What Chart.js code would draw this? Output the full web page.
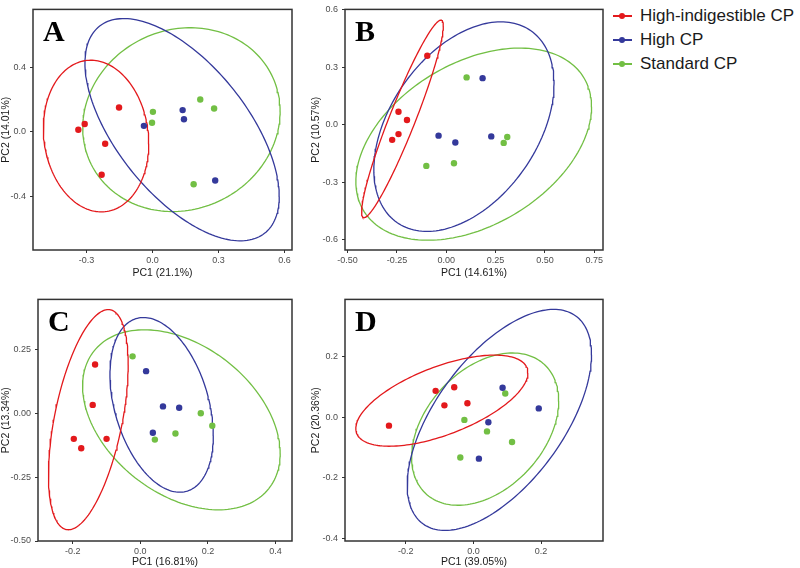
<!DOCTYPE html>
<html><head><meta charset="utf-8">
<script src="https://cdn.jsdelivr.net/npm/chart.js@4.4.0/dist/chart.umd.min.js"></script>
<style>
body{margin:0;background:#fff;width:800px;height:568px;position:relative;overflow:hidden;font-family:"Liberation Sans",Arial,sans-serif;}
.pane{position:absolute;}
#legend{position:absolute;left:610px;top:4px;}
.row{position:relative;height:24px;width:190px;}
.ln{position:absolute;left:3px;top:11.2px;width:19px;height:1.6px;}
.dot{position:absolute;left:9px;top:9px;width:6px;height:6px;border-radius:50%;}
.lab{position:absolute;left:30px;top:0;font-size:17px;line-height:24px;color:#1a1a1a;white-space:nowrap;}
</style></head>
<body>
<div class="pane" style="left:0;top:0;width:310px;height:290px"><canvas id="cA"></canvas></div>
<div class="pane" style="left:310px;top:0;width:300px;height:290px"><canvas id="cB"></canvas></div>
<div class="pane" style="left:0;top:290px;width:310px;height:278px"><canvas id="cC"></canvas></div>
<div class="pane" style="left:310px;top:290px;width:300px;height:278px"><canvas id="cD"></canvas></div>
<div id="legend"></div>
<script>
// ---- groups ----
const groupNames = ["High-indigestible CP", "High CP", "Standard CP"];
const groupColors = ["#E3191C", "#34399B", "#72BF44"];

// ---- Panel A (PC1 21.1%, PC2 14.01%) ----
const A_hiCP_pc1 = [-0.337, -0.308, -0.152, -0.215, -0.231];
const A_hiCP_pc2 = [0.014, 0.049, 0.152, -0.073, -0.266];
const A_high_pc1 = [-0.039, 0.137, 0.143, 0.285];
const A_high_pc2 = [0.038, 0.136, 0.079, -0.302];
const A_std_pc1  = [0.002, -0.002, 0.217, 0.280, 0.187];
const A_std_pc2  = [0.125, 0.057, 0.202, 0.146, -0.325];
// ellipse: [xmin, xmax, ymin, ymax, tilt]
const A_ellipses = [[-0.496, -0.017, -0.497, 0.446, -0.10], [-0.307, 0.576, -0.677, 0.705, -0.60], [-0.317, 0.580, -0.495, 0.648, 0.09]];
const A_xTicks = [-0.3, 0.0, 0.3, 0.6];
const A_xLabels = ["-0.3", "0.0", "0.3", "0.6"];
const A_yTicks = [-0.4, 0.0, 0.4];
const A_yLabels = ["-0.4", "0.0", "0.4"];

// ---- Panel B (PC1 14.61%, PC2 10.57%) ----
const B_hiCP_pc1 = [-0.096, -0.242, -0.199, -0.242, -0.274];
const B_hiCP_pc2 = [0.360, 0.068, 0.025, -0.049, -0.079];
const B_high_pc1 = [0.184, -0.039, 0.046, 0.228];
const B_high_pc2 = [0.243, -0.057, -0.093, -0.061];
const B_std_pc1  = [0.103, -0.101, 0.039, 0.309, 0.291];
const B_std_pc2  = [0.247, -0.215, -0.201, -0.064, -0.095];
const B_ellipses = [[-0.429, -0.015, -0.485, 0.546, 0.94], [-0.367, 0.546, -0.557, 0.537, 0.41], [-0.458, 0.736, -0.603, 0.400, 0.39]];
const B_xTicks = [-0.5, -0.25, 0.0, 0.25, 0.5, 0.75];
const B_xLabels = ["-0.50", "-0.25", "0.00", "0.25", "0.50", "0.75"];
const B_yTicks = [-0.6, -0.3, 0.0, 0.3, 0.6];
const B_yLabels = ["-0.6", "-0.3", "0.0", "0.3", "0.6"];

// ---- Panel C (PC1 16.81%, PC2 13.34%) ----
const C_hiCP_pc1 = [-0.134, -0.141, -0.197, -0.175, -0.100];
const C_hiCP_pc2 = [0.191, 0.033, -0.100, -0.137, -0.100];
const C_high_pc1 = [0.017, 0.067, 0.115, 0.037];
const C_high_pc2 = [0.165, 0.027, 0.022, -0.076];
const C_std_pc1  = [-0.023, 0.179, 0.213, 0.104, 0.043];
const C_std_pc2  = [0.223, 0.000, -0.049, -0.079, -0.103];
const C_ellipses = [[-0.272, -0.036, -0.456, 0.406, 0.50], [-0.090, 0.216, -0.309, 0.375, -0.35], [-0.171, 0.414, -0.378, 0.327, -0.375]];
const C_xTicks = [-0.2, 0.0, 0.2, 0.4];
const C_xLabels = ["-0.2", "0.0", "0.2", "0.4"];
const C_yTicks = [-0.5, -0.25, 0.0, 0.25];
const C_yLabels = ["-0.50", "-0.25", "0.00", "0.25"];

// ---- Panel D (PC1 39.05%, PC2 20.36%) ----
const D_hiCP_pc1 = [-0.250, -0.112, -0.057, -0.086, -0.018];
const D_hiCP_pc2 = [-0.028, 0.087, 0.099, 0.039, 0.046];
const D_high_pc1 = [0.086, 0.193, 0.044, 0.016];
const D_high_pc2 = [0.097, 0.029, -0.017, -0.137];
const D_std_pc1  = [0.094, -0.027, 0.040, 0.114, -0.039];
const D_std_pc2  = [0.078, -0.009, -0.047, -0.082, -0.133];
const D_ellipses = [[-0.348, 0.161, -0.096, 0.205, 0.61], [-0.196, 0.349, -0.374, 0.356, 0.59], [-0.183, 0.252, -0.291, 0.212, 0.37]];
const D_xTicks = [-0.2, 0.0, 0.2];
const D_xLabels = ["-0.2", "0.0", "0.2"];
const D_yTicks = [-0.4, -0.2, 0.0, 0.2];
const D_yLabels = ["-0.4", "-0.2", "0.0", "0.2"];

// ---- helpers ----
function toPts(xs, ys){ return xs.map((x,i)=>({x:x, y:ys[i]})); }
function ellipsePath(p){
  const [xmin,xmax,ymin,ymax,rho] = p;
  const cx=(xmin+xmax)/2, cy=(ymin+ymax)/2, rx=(xmax-xmin)/2, ry=(ymax-ymin)/2;
  const phi = Math.acos(rho);
  const out=[];
  for(let i=0;i<=180;i++){
    const t = i/180*2*Math.PI;
    out.push({x: cx+rx*Math.cos(t), y: cy+ry*Math.cos(t-phi)});
  }
  return out;
}

const boxPlugin = {
  id:'box',
  afterDatasetsDraw(chart, args, opts){
    const {ctx, chartArea:a} = chart;
    ctx.save();
    ctx.strokeStyle='#333'; ctx.lineWidth=1.5;
    ctx.strokeRect(a.left, a.top, a.right-a.left, a.bottom-a.top);
    ctx.fillStyle='#000';
    ctx.font='bold 30px "Liberation Serif", "Times New Roman", serif';
    ctx.textBaseline='alphabetic';
    ctx.fillText(opts.letter, a.left+10, a.top+32);
    ctx.restore();
  }
};

const FONT = '"Liberation Sans", Arial, sans-serif';

function makePanel(id, c){
  const datasets=[];
  c.points.forEach((pts,g)=>{
    datasets.push({label:groupNames[g], data:pts, showLine:false, pointRadius:3.2, pointBorderWidth:0,
      pointBackgroundColor:groupColors[g], backgroundColor:groupColors[g], borderColor:groupColors[g]});
  });
  c.ellipses.forEach((e,g)=>{
    datasets.push({label:groupNames[g]+' ellipse', data:ellipsePath(e), showLine:true, pointRadius:0,
      borderColor:groupColors[g], borderWidth:1.3, tension:0, fill:false});
  });
  const axis = (ticks, labels, range, title, isX) => ({
    type:'linear', min:range[0], max:range[1],
    afterBuildTicks: s => { s.ticks = ticks.map(v=>({value:v})); },
    afterFit: s => { if(isX) s.height = c.xHeight; else s.width = c.yWidth; },
    ticks:{ callback:(v,i)=>labels[i], font:{family:FONT,size:9}, color:'#4d4d4d', padding: isX?2:4, maxRotation:0, autoSkip:false },
    grid:{ display:true, drawOnChartArea:false, drawTicks:true, tickLength:3, tickColor:'#333', lineWidth:1 },
    border:{ display:false },
    title:{ display:true, text:title, font:{family:FONT,size:10.5}, color:'#1a1a1a',
      padding: isX ? {top:0,bottom:c.xTitlePad} : {top:0,bottom:0} }
  });
  new Chart(document.getElementById(id), {
    type:'scatter',
    data:{datasets},
    plugins:[boxPlugin],
    options:{
      responsive:true, maintainAspectRatio:false, animation:false, events:[],
      layout:{padding:c.padding},
      plugins:{ legend:{display:false}, tooltip:{enabled:false}, box:{letter:c.letter} },
      scales:{
        x: axis(c.xTicks, c.xLabels, c.xRange, c.xTitle, true),
        y: axis(c.yTicks, c.yLabels, c.yRange, c.yTitle, false)
      }
    }
  });
}

makePanel('cA', {letter:'A', padding:{top:4,right:18,left:0,bottom:0}, yWidth:33, xHeight:40, xTitlePad:10.5,
  xRange:[-0.543,0.634], yRange:[-0.734,0.762], xTicks:A_xTicks, xLabels:A_xLabels, yTicks:A_yTicks, yLabels:A_yLabels,
  xTitle:'PC1 (21.1%)', yTitle:'PC2 (14.01%)',
  points:[toPts(A_hiCP_pc1,A_hiCP_pc2), toPts(A_high_pc1,A_high_pc2), toPts(A_std_pc1,A_std_pc2)], ellipses:A_ellipses});

makePanel('cB', {letter:'B', padding:{top:3,right:7,left:0,bottom:0}, yWidth:35, xHeight:40, xTitlePad:10.5,
  xRange:[-0.513,0.794], yRange:[-0.654,0.602], xTicks:B_xTicks, xLabels:B_xLabels, yTicks:B_yTicks, yLabels:B_yLabels,
  xTitle:'PC1 (14.61%)', yTitle:'PC2 (10.57%)',
  points:[toPts(B_hiCP_pc1,B_hiCP_pc2), toPts(B_high_pc1,B_high_pc2), toPts(B_std_pc1,B_std_pc2)], ellipses:B_ellipses});

makePanel('cC', {letter:'C', padding:{top:2,right:18,left:0,bottom:0}, yWidth:38, xHeight:27, xTitlePad:0,
  xRange:[-0.303,0.449], yRange:[-0.5,0.446], xTicks:C_xTicks, xLabels:C_xLabels, yTicks:C_yTicks, yLabels:C_yLabels,
  xTitle:'PC1 (16.81%)', yTitle:'PC2 (13.34%)',
  points:[toPts(C_hiCP_pc1,C_hiCP_pc2), toPts(C_high_pc1,C_high_pc2), toPts(C_std_pc1,C_std_pc2)], ellipses:C_ellipses});

makePanel('cD', {letter:'D', padding:{top:2,right:7,left:0,bottom:0}, yWidth:35, xHeight:27, xTitlePad:0,
  xRange:[-0.38,0.383], yRange:[-0.409,0.389], xTicks:D_xTicks, xLabels:D_xLabels, yTicks:D_yTicks, yLabels:D_yLabels,
  xTitle:'PC1 (39.05%)', yTitle:'PC2 (20.36%)',
  points:[toPts(D_hiCP_pc1,D_hiCP_pc2), toPts(D_high_pc1,D_high_pc2), toPts(D_std_pc1,D_std_pc2)], ellipses:D_ellipses});

// legend
const leg = document.getElementById('legend');
groupNames.forEach((n,i)=>{
  const r=document.createElement('div'); r.className='row';
  r.innerHTML='<div class="ln" style="background:'+groupColors[i]+'"></div><div class="dot" style="background:'+groupColors[i]+'"></div><div class="lab"></div>';
  r.querySelector('.lab').textContent=n;
  leg.appendChild(r);
});
</script>
</body></html>
